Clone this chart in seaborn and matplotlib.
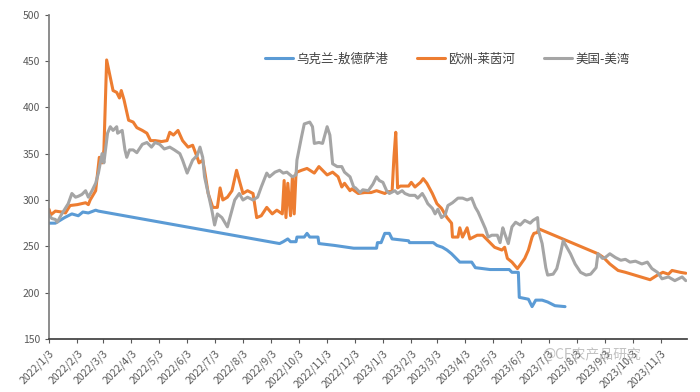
import numpy as np
import pandas as pd
import seaborn as sns
import matplotlib.pyplot as plt
import matplotlib.dates as mdates
from matplotlib.ticker import FuncFormatter

# 乌克兰-敖德萨港
ua_dates = ["2022-01-03", "2022-01-10", "2022-01-15", "2022-01-20", "2022-01-28", "2022-02-04",
            "2022-02-09", "2022-02-15", "2022-02-23", "2022-02-26", "2022-09-12", "2022-09-16",
            "2022-09-21", "2022-09-24", "2022-09-30", "2022-10-01", "2022-10-09", "2022-10-12",
            "2022-10-15", "2022-10-24", "2022-10-25", "2022-11-11", "2022-11-25", "2022-12-02",
            "2022-12-27", "2022-12-28", "2023-01-01", "2023-01-05", "2023-01-10", "2023-01-13",
            "2023-01-31", "2023-02-01", "2023-02-27", "2023-03-03", "2023-03-09", "2023-03-14",
            "2023-03-19", "2023-03-23", "2023-03-28", "2023-04-10", "2023-04-14", "2023-04-30",
            "2023-05-21", "2023-05-24", "2023-05-31", "2023-06-01", "2023-06-11", "2023-06-15",
            "2023-06-19", "2023-06-26", "2023-07-02", "2023-07-10", "2023-07-21"]
ua_values = [275, 275, 278, 281, 285, 283, 287, 286, 289, 288, 253, 255,
             258, 255, 255, 260, 260, 264, 260, 260, 253, 251, 249, 248,
             248, 254, 254, 264, 264, 258, 256, 254, 254, 251, 249, 246,
             242, 238, 233, 233, 227, 225, 225, 222, 222, 195, 193, 185,
             192, 192, 190, 186, 185]

# 欧洲-莱茵河
eu_dates = ["2022-01-03", "2022-01-05", "2022-01-10", "2022-01-17", "2022-01-21", "2022-01-26",
            "2022-02-03", "2022-02-12", "2022-02-15", "2022-02-17", "2022-02-23", "2022-02-27",
            "2022-03-02", "2022-03-04", "2022-03-07", "2022-03-11", "2022-03-14", "2022-03-18",
            "2022-03-21", "2022-03-23", "2022-03-26", "2022-03-31", "2022-04-05", "2022-04-09",
            "2022-04-15", "2022-04-20", "2022-04-24", "2022-04-29", "2022-05-06", "2022-05-12",
            "2022-05-15", "2022-05-19", "2022-05-24", "2022-05-29", "2022-06-04", "2022-06-09",
            "2022-06-14", "2022-06-16", "2022-06-20", "2022-06-22", "2022-06-26", "2022-07-01",
            "2022-07-06", "2022-07-09", "2022-07-12", "2022-07-17", "2022-07-22", "2022-07-27",
            "2022-07-30", "2022-08-03", "2022-08-08", "2022-08-14", "2022-08-18", "2022-08-23",
            "2022-08-29", "2022-09-04", "2022-09-09", "2022-09-15", "2022-09-17", "2022-09-19",
            "2022-09-21", "2022-09-24", "2022-09-26", "2022-09-28", "2022-09-30", "2022-10-01",
            "2022-10-06", "2022-10-12", "2022-10-20", "2022-10-25", "2022-11-03", "2022-11-09",
            "2022-11-15", "2022-11-19", "2022-11-22", "2022-11-28", "2022-11-30", "2022-12-07",
            "2022-12-14", "2022-12-21", "2022-12-27", "2023-01-05", "2023-01-08", "2023-01-13",
            "2023-01-15", "2023-01-17", "2023-01-19", "2023-01-22", "2023-01-31", "2023-02-03",
            "2023-02-07", "2023-02-13", "2023-02-16", "2023-02-20", "2023-02-26", "2023-03-03",
            "2023-03-08", "2023-03-14", "2023-03-19", "2023-03-20", "2023-03-26", "2023-03-28",
            "2023-03-31", "2023-04-05", "2023-04-08", "2023-04-16", "2023-04-22", "2023-04-28",
            "2023-05-05", "2023-05-13", "2023-05-16", "2023-05-19", "2023-05-24", "2023-05-30",
            "2023-06-02", "2023-06-07", "2023-06-11", "2023-06-15", "2023-06-17", "2023-06-21",
            "2023-06-22", "2023-08-26", "2023-09-01", "2023-09-08", "2023-09-17", "2023-09-25",
            "2023-10-22", "2023-10-30", "2023-11-05", "2023-11-11", "2023-11-15", "2023-11-24",
            "2023-11-30"]
eu_values = [290, 284, 288, 287, 286, 294,
             295, 297, 295, 300, 310, 346,
             340, 354, 451, 432, 418, 416,
             410, 418, 408, 386, 384, 378,
             375, 372, 364, 364, 363, 364,
             373, 370, 375, 364, 357, 359,
             346, 340, 343, 332, 307, 292,
             292, 313, 300, 303, 310, 332,
             321, 307, 310, 307, 281, 283,
             292, 285, 289, 285, 321, 281,
             318, 283, 325, 285, 329, 330,
             332, 334, 329, 336, 327, 330,
             325, 314, 318, 310, 312, 307,
             308, 308, 310, 307, 309, 309,
             346, 373, 313, 315, 315, 319,
             314, 319, 323, 318, 307, 296,
             291, 281, 275, 260, 260, 270,
             260, 270, 258, 262, 262, 256,
             249, 246, 249, 237, 233, 226,
             230, 237, 246, 260, 264, 265,
             269, 242, 238, 231, 224, 222,
             214, 219, 222, 220, 224, 222,
             221]

# 美国-美湾
us_dates = ["2022-01-03", "2022-01-06", "2022-01-10", "2022-01-12", "2022-01-17", "2022-01-24",
            "2022-01-28", "2022-02-01", "2022-02-04", "2022-02-08", "2022-02-12", "2022-02-15",
            "2022-02-19", "2022-02-23", "2022-02-26", "2022-03-02", "2022-03-04", "2022-03-08",
            "2022-03-11", "2022-03-14", "2022-03-18", "2022-03-19", "2022-03-24", "2022-03-27",
            "2022-03-29", "2022-04-01", "2022-04-05", "2022-04-09", "2022-04-15", "2022-04-20",
            "2022-04-25", "2022-04-29", "2022-05-04", "2022-05-09", "2022-05-15", "2022-05-20",
            "2022-05-26", "2022-05-29", "2022-06-03", "2022-06-06", "2022-06-09", "2022-06-14",
            "2022-06-17", "2022-06-20", "2022-06-22", "2022-06-26", "2022-06-30", "2022-07-03",
            "2022-07-06", "2022-07-11", "2022-07-14", "2022-07-17", "2022-07-22", "2022-07-25",
            "2022-07-30", "2022-08-03", "2022-08-08", "2022-08-14", "2022-08-19", "2022-08-23",
            "2022-08-29", "2022-09-01", "2022-09-07", "2022-09-12", "2022-09-16", "2022-09-20",
            "2022-09-26", "2022-09-30", "2022-10-01", "2022-10-06", "2022-10-09", "2022-10-15",
            "2022-10-18", "2022-10-20", "2022-10-25", "2022-10-29", "2022-11-03", "2022-11-06",
            "2022-11-09", "2022-11-14", "2022-11-19", "2022-11-22", "2022-11-28", "2022-12-02",
            "2022-12-04", "2022-12-09", "2022-12-12", "2022-12-18", "2022-12-23", "2022-12-27",
            "2022-12-30", "2023-01-03", "2023-01-07", "2023-01-10", "2023-01-16", "2023-01-19",
            "2023-01-24", "2023-01-27", "2023-02-01", "2023-02-07", "2023-02-10", "2023-02-15",
            "2023-02-18", "2023-02-21", "2023-02-26", "2023-03-01", "2023-03-04", "2023-03-08",
            "2023-03-12", "2023-03-15", "2023-03-20", "2023-03-26", "2023-03-31", "2023-04-05",
            "2023-04-10", "2023-04-14", "2023-04-17", "2023-04-21", "2023-04-25", "2023-04-28",
            "2023-05-02", "2023-05-08", "2023-05-11", "2023-05-14", "2023-05-16", "2023-05-20",
            "2023-05-24", "2023-05-28", "2023-06-02", "2023-06-07", "2023-06-13", "2023-06-16",
            "2023-06-21", "2023-06-22", "2023-06-26", "2023-06-30", "2023-07-02", "2023-07-08",
            "2023-07-12", "2023-07-16", "2023-07-19", "2023-07-23", "2023-07-27", "2023-08-01",
            "2023-08-07", "2023-08-13", "2023-08-18", "2023-08-24", "2023-08-26", "2023-08-31",
            "2023-09-03", "2023-09-08", "2023-09-14", "2023-09-20", "2023-09-25", "2023-09-30",
            "2023-10-06", "2023-10-13", "2023-10-19", "2023-10-24", "2023-10-30", "2023-11-04",
            "2023-11-11", "2023-11-18", "2023-11-26", "2023-11-30"]
us_values = [284, 280, 279, 276, 285, 296,
             307, 303, 304, 306, 310, 303,
             310, 318, 329, 350, 340, 372,
             379, 375, 379, 372, 375, 354,
             346, 354, 354, 351, 360, 362,
             357, 362, 360, 355, 357, 354,
             350, 343, 329, 336, 343, 348,
             357, 346, 325, 307, 289, 273,
             285, 281, 276, 271, 289, 300,
             307, 300, 303, 300, 303, 314,
             329, 325, 330, 332, 329, 330,
             325, 327, 343, 368, 382, 384,
             379, 361, 362, 361, 379, 370,
             339, 336, 336, 330, 325, 314,
             313, 308, 311, 310, 317, 325,
             321, 319, 310, 307, 310, 307,
             310, 307, 305, 305, 302, 307,
             302, 296, 291, 285, 290, 281,
             284, 294, 297, 302, 302, 300,
             302, 292, 287, 278, 269, 260,
             262, 262, 254, 270, 264, 253,
             271, 276, 273, 278, 275, 278,
             281, 267, 253, 227, 219, 220,
             226, 242, 256, 249, 242, 231,
             222, 219, 220, 227, 242, 237,
             238, 242, 238, 235, 236, 233,
             234, 231, 233, 226, 222, 215,
             217, 213, 217, 213]

labels = ["乌克兰-敖德萨港", "欧洲-莱茵河", "美国-美湾"]
colors = ["#5B9BD5", "#ED7D31", "#A5A5A5"]
y_ticks = [150, 200, 250, 300, 350, 400, 450, 500]

df = pd.concat([
    pd.DataFrame({"date": pd.to_datetime(ua_dates), "value": ua_values, "series": labels[0]}),
    pd.DataFrame({"date": pd.to_datetime(eu_dates), "value": eu_values, "series": labels[1]}),
    pd.DataFrame({"date": pd.to_datetime(us_dates), "value": us_values, "series": labels[2]}),
])

sns.set_theme(style="white")
plt.rcParams["font.family"] = ["Noto Sans CJK SC", "DejaVu Sans"]

fig = plt.figure(figsize=(7, 3.92), dpi=100)
ax = fig.add_axes([0.07, 0.135, 0.911, 0.828])

sns.lineplot(data=df, x="date", y="value", hue="series", hue_order=labels,
             palette=colors, linewidth=2.2, estimator=None, ax=ax)

ax.set_xlim(pd.Timestamp("2022-01-03"), pd.Timestamp("2023-12-01"))
ax.set_ylim(150, 500)
ax.set_yticks(y_ticks)
ax.xaxis.set_major_locator(mdates.MonthLocator(bymonthday=3))
ax.xaxis.set_major_formatter(FuncFormatter(
    lambda v, pos: (lambda d: f"{d.year}/{d.month}/{d.day}")(mdates.num2date(v))))
ax.set_xlabel("")
ax.set_ylabel("")

for side in ["top", "right"]:
    ax.spines[side].set_visible(False)
ax.spines["left"].set_color("#7f7f7f")
ax.spines["bottom"].set_color("#404040")
ax.tick_params(axis="both", which="major", length=3, width=0.8, color="#595959",
               labelsize=7.5, labelcolor="#595959", direction="out", bottom=True, left=True)
plt.setp(ax.get_xticklabels(), rotation=45, ha="right", rotation_mode="anchor")

ax.legend(loc="center", bbox_to_anchor=(0.625, 0.863), ncol=3, frameon=False,
          fontsize=9, handlelength=2.2, columnspacing=2.3, handletextpad=0.3,
          labelcolor="#404040")

fig.text(0.775, 0.085, "@CF农产品研究", fontsize=10, color="#9a9a9a", alpha=0.6)

fig.savefig("out.png", dpi=100)
